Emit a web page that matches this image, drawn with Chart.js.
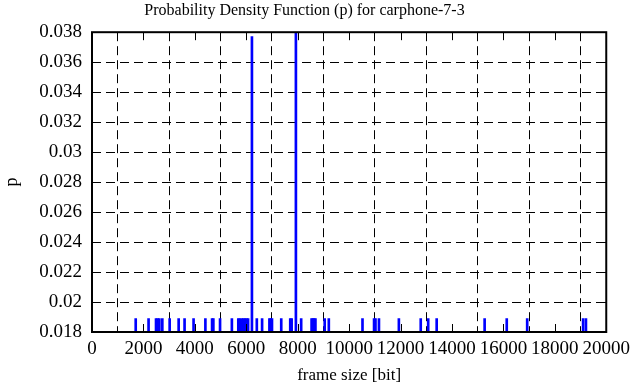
<!DOCTYPE html>
<html>
<head>
<meta charset="utf-8">
<script src="https://cdn.jsdelivr.net/npm/chart.js@4/dist/chart.umd.min.js"></script>
<style>
  html, body { margin: 0; padding: 0; background: #ffffff; }
  #wrap { width: 636px; height: 387px; }
</style>
</head>
<body>
<div id="wrap"><canvas id="c" width="636" height="387"></canvas></div>
<script>
// ---- data ----
const chartTitle = "Probability Density Function (p) for carphone-7-3";
const xTitle = "frame size [bit]";
const yTitle = "p";

const frameSizes = [
  1700, 2200, 2490, 2550, 2620, 2735, 3020, 3370, 3600, 3950,
  4410, 4670, 4720, 4980, 5440, 5690, 5750, 5830, 5890, 5950,
  6010, 6070, 6220, 6410, 6615, 6900, 6950, 7000, 7360, 7710,
  7765, 7930, 8135, 8540, 8590, 8640, 8690, 9050, 9210, 10520,
  10970, 11025, 11160, 11935, 12785, 13075, 13405, 15270, 16130, 16925,
  19100, 19210
];
const probabilities = [
  0.0189, 0.0189, 0.0189, 0.0189, 0.0189, 0.0189, 0.0189, 0.0189, 0.0189, 0.0189,
  0.0189, 0.0189, 0.0189, 0.0189, 0.0189, 0.0189, 0.0189, 0.0189, 0.0189, 0.0189,
  0.0189, 0.0189, 0.0377, 0.0189, 0.0189, 0.0189, 0.0189, 0.0189, 0.0189, 0.0189,
  0.0189, 0.0380, 0.0189, 0.0189, 0.0189, 0.0189, 0.0189, 0.0189, 0.0189, 0.0189,
  0.0189, 0.0189, 0.0189, 0.0189, 0.0189, 0.0189, 0.0189, 0.0189, 0.0189, 0.0189,
  0.0189, 0.0189
];
const xTicks = [0, 2000, 4000, 6000, 8000, 10000, 12000, 14000, 16000, 18000, 20000];
const yTicks = [0.018, 0.02, 0.022, 0.024, 0.026, 0.028, 0.03, 0.032, 0.034, 0.036, 0.038];

// ---- chart ----
const FONT = "'Liberation Serif', 'Times New Roman', serif";

const frameAndTicks = {
  id: 'frameAndTicks',
  afterDatasetsDraw(chart) {
    const { ctx, chartArea: a, scales } = chart;
    const tl = 8;
    ctx.save();
    ctx.strokeStyle = '#000';
    ctx.lineWidth = 1;
    ctx.setLineDash([]);
    ctx.beginPath();
    xTicks.forEach(v => {
      const x = Math.round(scales.x.getPixelForValue(v)) + 0.5;
      ctx.moveTo(x, a.bottom); ctx.lineTo(x, a.bottom - tl);
      ctx.moveTo(x, a.top); ctx.lineTo(x, a.top + tl);
    });
    yTicks.forEach(v => {
      const y = Math.round(scales.y.getPixelForValue(v)) + 0.5;
      ctx.moveTo(a.left, y); ctx.lineTo(a.left + tl, y);
      ctx.moveTo(a.right, y); ctx.lineTo(a.right - tl, y);
    });
    ctx.stroke();
    ctx.lineWidth = 2;
    ctx.strokeRect(a.left, a.top, a.right - a.left, a.bottom - a.top);
    ctx.restore();
  }
};

new Chart(document.getElementById('c'), {
  type: 'bar',
  data: {
    datasets: [{
      data: frameSizes.map((x, i) => ({ x: x, y: probabilities[i] })),
      backgroundColor: '#0000ff',
      borderWidth: 0,
      barThickness: 2,
      grouped: false
    }]
  },
  options: {
    responsive: false,
    animation: false,
    devicePixelRatio: 1,
    layout: { padding: { left: 0, right: 27, top: 0, bottom: 0 } },
    plugins: {
      legend: { display: false },
      tooltip: { enabled: false },
      title: {
        display: true,
        text: chartTitle,
        color: '#000',
        font: { family: FONT, size: 16, weight: 'normal' },
        padding: { top: 1, bottom: 12 }
      }
    },
    scales: {
      x: {
        type: 'linear',
        min: 0, max: 20000,
        offset: false,
        afterBuildTicks(scale) { scale.ticks = xTicks.map(v => ({ value: v })); },
        afterFit(scale) { scale.height = 55; },
        ticks: {
          color: '#000',
          font: { family: FONT, size: 19 },
          padding: 6,
          maxRotation: 0,
          autoSkip: false,
          callback: v => String(v)
        },
        grid: { color: '#000', lineWidth: 1, drawTicks: false },
        border: { display: false, dash: [9, 5] },
        title: {
          display: true, text: xTitle, color: '#000',
          font: { family: FONT, size: 17 },
          padding: { top: 2, bottom: 1 }
        }
      },
      y: {
        type: 'linear',
        min: 0.018, max: 0.038,
        afterBuildTicks(scale) { scale.ticks = yTicks.map(v => ({ value: v })); },
        afterFit(scale) { scale.width = 92; },
        ticks: {
          color: '#000',
          font: { family: FONT, size: 19 },
          padding: 10,
          autoSkip: false,
          callback: v => String(Number(Number(v).toFixed(4)))
        },
        grid: { color: '#000', lineWidth: 1, drawTicks: false },
        border: { display: false, dash: [9, 5] },
        title: {
          display: true, text: yTitle, color: '#000',
          font: { family: FONT, size: 18 },
          padding: { top: 1, bottom: 0 }
        }
      }
    }
  },
  plugins: [frameAndTicks]
});
</script>
</body>
</html>
